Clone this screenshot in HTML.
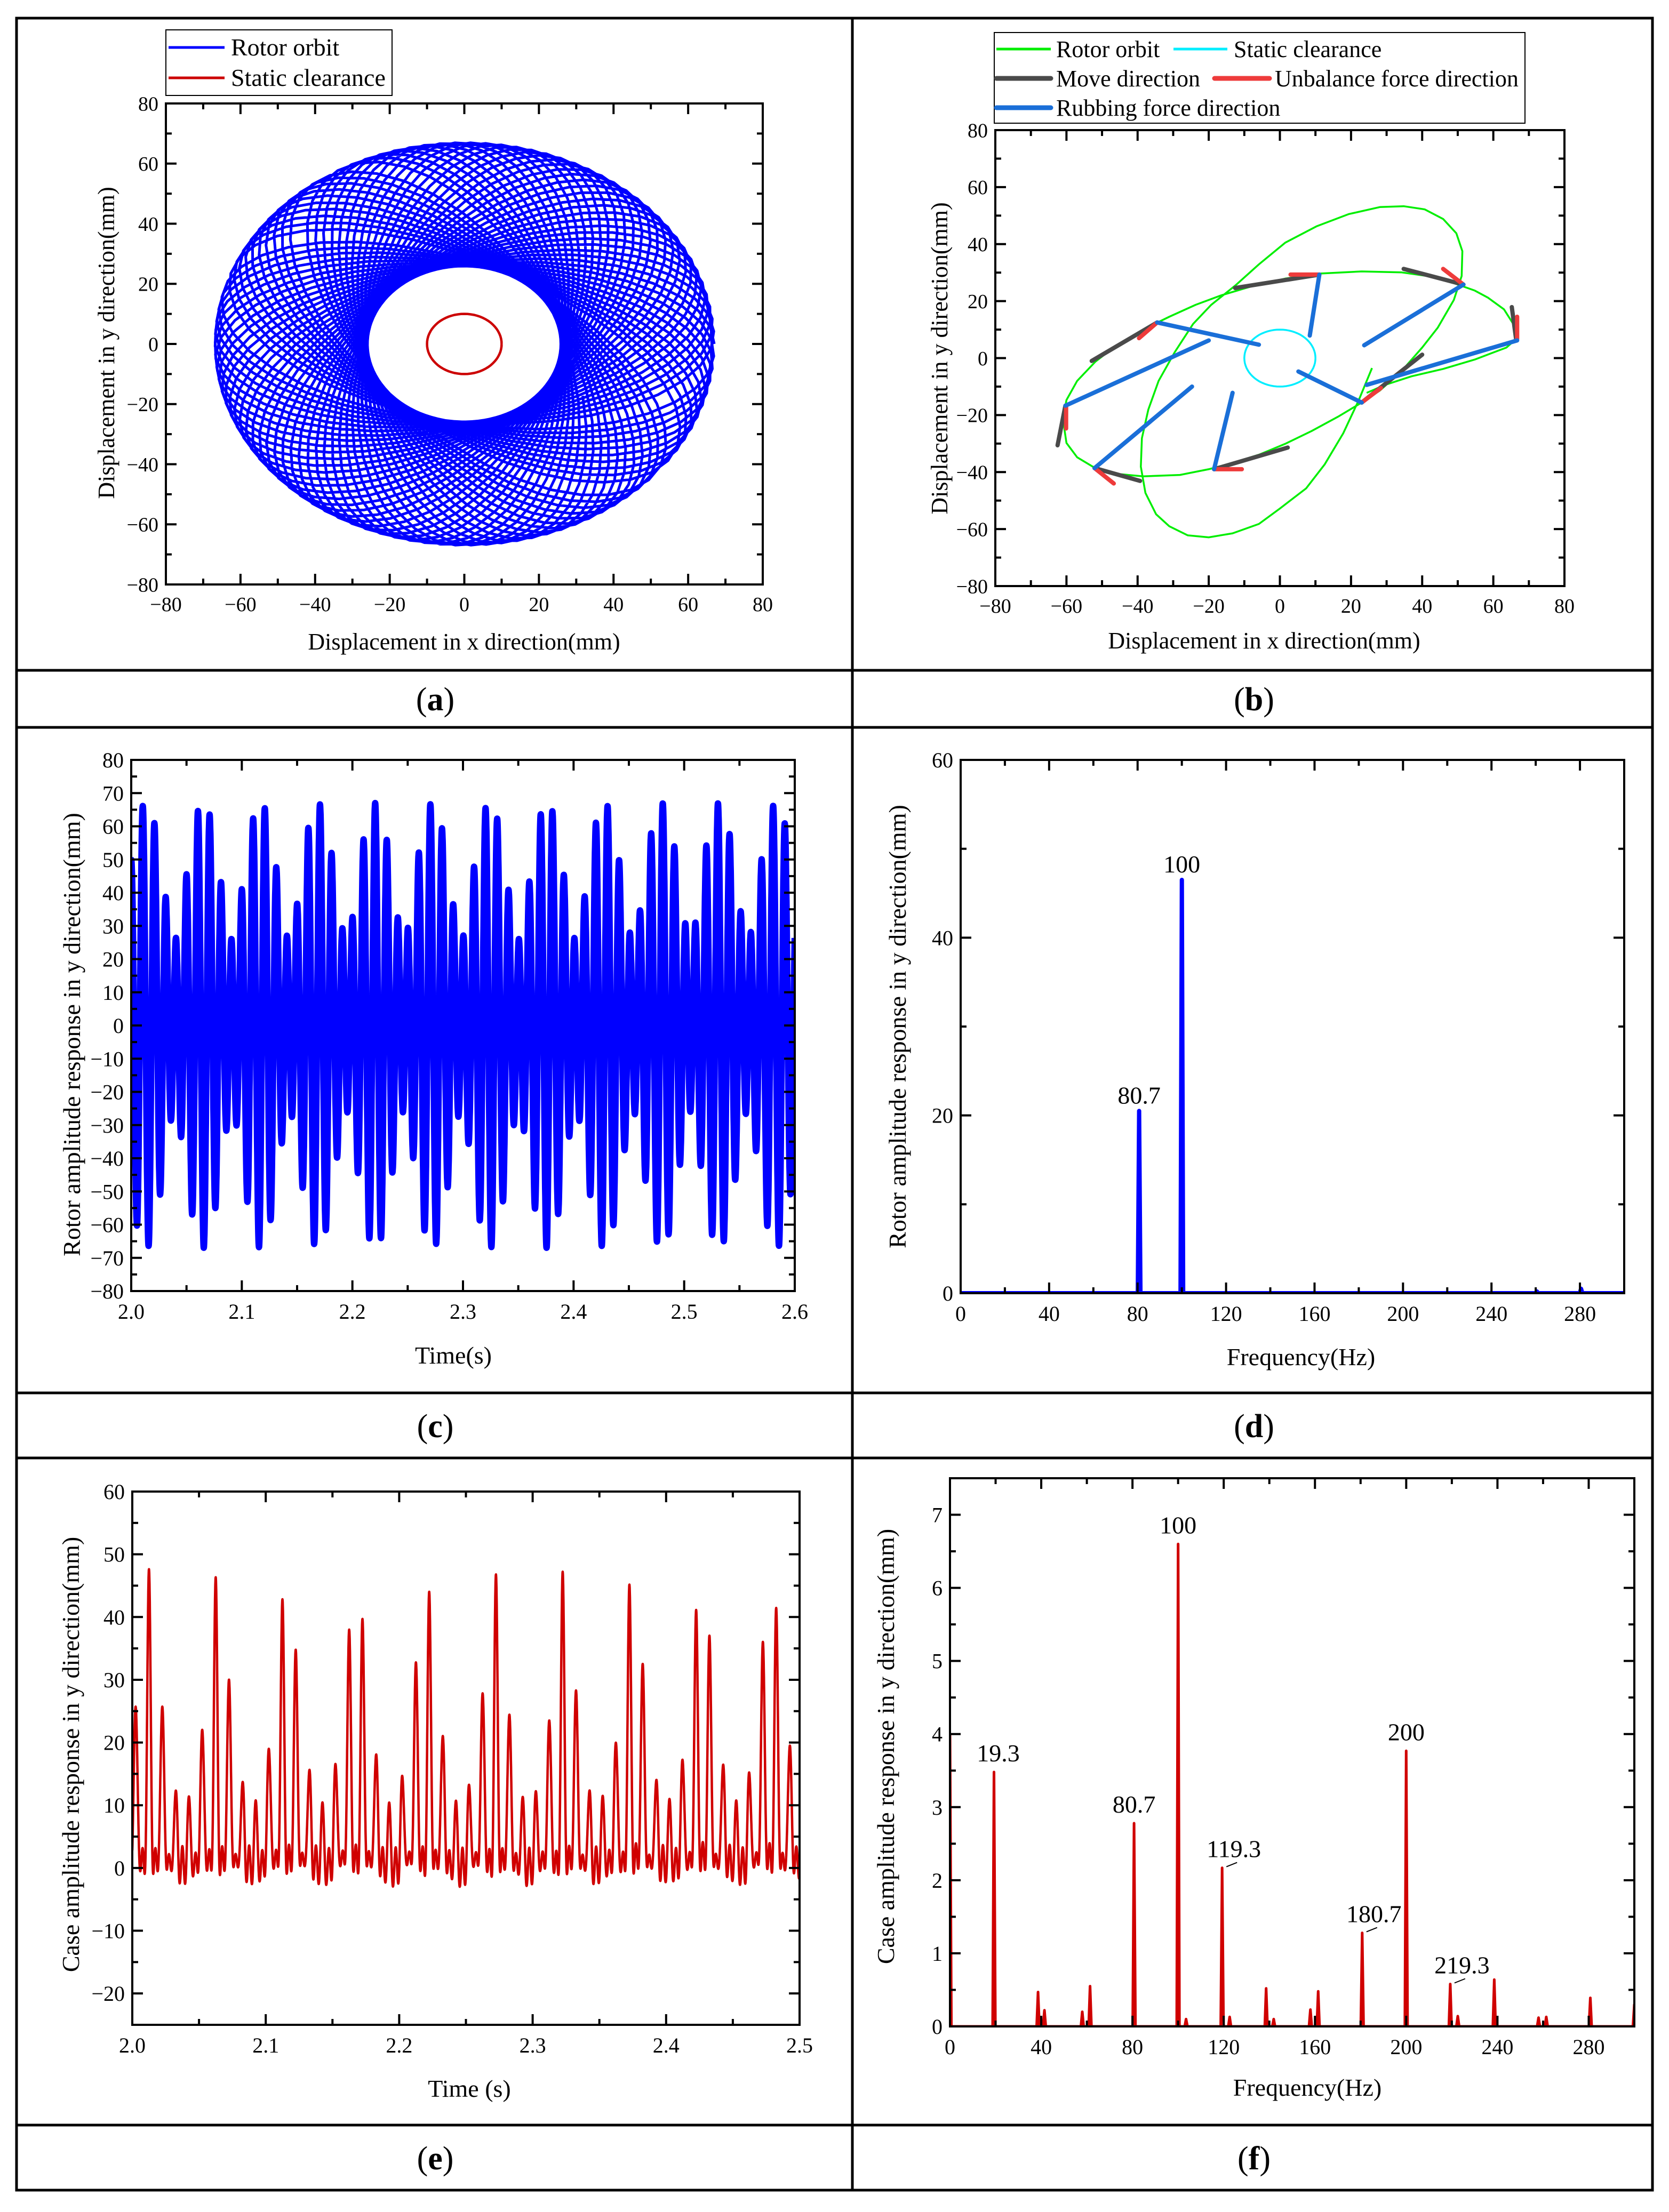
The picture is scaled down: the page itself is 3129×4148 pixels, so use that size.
<!DOCTYPE html>
<html><head><meta charset="utf-8"><style>
html,body{margin:0;padding:0;background:#fff;}
svg, svg text, svg tspan{font-family:"Liberation Serif","Times New Roman",Times,"DejaVu Serif",serif !important;}
</style></head><body>
<svg id="fig" width="3129" height="4143" viewBox="0 0 3129 4143" xmlns="http://www.w3.org/2000/svg" style="font-family:'Liberation Serif','Times New Roman',Times,serif">
<rect x="0" y="0" width="3129" height="4143" fill="#fff"/>
<g stroke="#000" stroke-width="5" fill="none">
<rect x="31" y="34" width="3067" height="4073"/>
<line x1="1598" y1="34" x2="1598" y2="4107"/>
<line x1="31" y1="1257" x2="3098" y2="1257"/>
<line x1="31" y1="1364" x2="3098" y2="1364"/>
<line x1="31" y1="2612" x2="3098" y2="2612"/>
<line x1="31" y1="2734" x2="3098" y2="2734"/>
<line x1="31" y1="3985" x2="3098" y2="3985"/>
</g>
<g font-size="62" text-anchor="middle">
<text x="816" y="1332">(<tspan font-weight="bold">a</tspan>)</text>
<text x="2351" y="1332">(<tspan font-weight="bold">b</tspan>)</text>
<text x="816" y="2695">(<tspan font-weight="bold">c</tspan>)</text>
<text x="2351" y="2695">(<tspan font-weight="bold">d</tspan>)</text>
<text x="816" y="4068">(<tspan font-weight="bold">e</tspan>)</text>
<text x="2351" y="4068">(<tspan font-weight="bold">f</tspan>)</text>
</g>
<g font-size="46">
<rect x="311" y="56" width="424" height="123" fill="#fff" stroke="#000" stroke-width="2"/>
<line x1="316" y1="89" x2="421" y2="89" stroke="#0000ff" stroke-width="5"/>
<text x="433" y="104">Rotor orbit</text>
<line x1="316" y1="146" x2="421" y2="146" stroke="#cc0000" stroke-width="5"/>
<text x="433" y="161">Static clearance</text>
</g>
<g font-size="44">
<rect x="1864" y="61" width="995" height="170" fill="#fff" stroke="#000" stroke-width="2"/>
<line x1="1868" y1="92" x2="1970" y2="92" stroke="#00ee00" stroke-width="5"/>
<text x="1980" y="107">Rotor orbit</text>
<line x1="2200" y1="92" x2="2301" y2="92" stroke="#00eeff" stroke-width="5"/>
<text x="2313" y="107">Static clearance</text>
<line x1="1868" y1="147" x2="1970" y2="147" stroke="#4a4a4a" stroke-width="9" stroke-linecap="round"/>
<text x="1980" y="162">Move direction</text>
<line x1="2277" y1="147" x2="2380" y2="147" stroke="#ee3b3b" stroke-width="9" stroke-linecap="round"/>
<text x="2390" y="162">Unbalance force direction</text>
<line x1="1868" y1="202" x2="1970" y2="202" stroke="#1a6fd8" stroke-width="9" stroke-linecap="round"/>
<text x="1980" y="217">Rubbing force direction</text>
</g>
</svg>
<script>
// ---------- DATA ----------
const rotorFreqs = [100, 80.7];
const rotorAmps = [46.5, 20.5];
const orbitBX = [25.9,22.2,17.8,12.6,7.4,0,-5.9,-13.3,-20,-25.9,-31.1,-34.8,-37.8,-39.1,-38.8,-37,-34.1,-29.6,-24.4,-19.3,-12.6,-5.9,1.5,10.4,19.3,28.1,34.8,40.7,45.9,49.6,51.3,51.1,48.9,44.4,40,34.1,28.1,23,16.3,8.9,1.5,-5.9,-13.3,-20,-28.1,-38.5,-45.9,-52.6,-57,-60,-61,-60,-57,-51.9,-45.9,-38.5,-31.1,-23.7,-16.3,-7.4,1.5,10.4,23,34.1,41.5,48.9,54.8,58.5,63,65.6,66.7,63.7,54.8,45.9,37,29.6,24.4];
const orbitBY = [-3.5,-14.7,-26.4,-37.3,-45.7,-52.8,-58.2,-61.5,-62.9,-62.2,-59,-54.8,-47.3,-38.1,-28.1,-18.1,-8,2,12,18.7,25.4,32.9,40.5,46.3,50.5,53,53.3,52.2,48.8,43.8,37.5,28.8,20.4,10.7,3.7,-4.7,-11.4,-15.6,-20.6,-25.6,-30.1,-33.9,-36.8,-39,-41,-41.5,-40.6,-38.1,-34.8,-29.8,-21.4,-14.7,-8,-1.3,4.5,10,14.5,18.7,22.1,25.4,27.9,29.6,30.4,30.1,28.8,26.3,23.7,21.2,17.1,12,7,3.7,-0.5,-3.8,-6.4,-9.4,-12.2];
const clearanceRadius = 10;
const moveSegs = [[-12.6,24.6,11.1,29.3],[34.8,31.3,51.6,25.8],[65.2,17.9,66.4,6.7],[40,1.2,23,-15.6],[2.2,-31.4,-18.5,-39],[-39.3,-43.1,-52.1,-38.6],[-62.5,-30.6,-60.3,-16.7],[-52.9,-1,-34.5,12.5]];
const unbalSegs = [[3,29.3,11.1,29.3],[45.9,31.3,51.6,25.8],[66.7,14.5,66.7,6.7],[28.4,-10.5,23,-15.6],[-10.7,-39,-18.5,-39],[-46.7,-44,-52.1,-38.6],[-60.1,-24.7,-60.1,-16.7],[-39.6,7,-34.5,12.5]];
const rubSegs = [[11.1,29.3,8.4,7.9],[51.6,25.8,23.7,4.5],[66.7,6.2,24.4,-9.4],[23,-15.6,5.2,-4.7],[-18.5,-39,-13.3,-12.2],[-52.1,-38.6,-24.7,-10],[-60.3,-16.7,-20,6.2],[-34.5,12.5,-5.9,4.7]];
const rotorSpecFreqs = [80.7, 100, 260.5, 280.5];
const rotorSpecAmps = [20.5, 46.5, 0.2, 0.5];
const rotorSpecLabels = ["80.7", "100"];
const caseFreqs = [0, 19.3, 38.6, 41.4, 58, 61.4, 80.7, 100, 103.5, 119.3, 122.6, 138.6, 141.9, 158, 161.4, 180.7, 200, 219.3, 222.6, 238.6, 258, 261.4, 280.7, 300];
const caseAmps = [4.0, 3.48, 0.47, 0.22, 0.2, 0.55, 2.78, 6.6, 0.1, 2.17, 0.13, 0.52, 0.1, 0.23, 0.48, 1.28, 3.77, 0.58, 0.14, 0.64, 0.12, 0.13, 0.39, 0.3];
const caseLabelTexts = ["19.3","80.7","100","119.3","180.7","200","219.3"];
const caseLabelFreqs = [19.3, 80.7, 100, 119.3, 180.7, 200, 219.3];
const caseLabelAmps = [3.48, 2.78, 6.6, 2.17, 1.28, 3.77, 0.58];
const caseTimeGain = 1.6;
const caseTimeOffset = 7.5;
const caseTimeT0 = 2.0125;

// ---------- HELPERS ----------
const NS = "http://www.w3.org/2000/svg";
const svg = document.getElementById('fig');
function mk(tag, attrs, parent){ const e=document.createElementNS(NS,tag); for(const k in attrs) e.setAttribute(k,attrs[k]); (parent||svg).appendChild(e); return e; }
function fmt(v,d){ let s=v.toFixed(d); if(v<-1e-9) s='\u2212'+(-v).toFixed(d); return s; }
let clipId=0;
function makeAxes(p){
  const g = mk('g',{});
  
  
  const sx = v => p.L + (v-p.xmin)/(p.xmax-p.xmin)*(p.R-p.L);
  const sy = v => p.B - (v-p.ymin)/(p.ymax-p.ymin)*(p.B-p.T);
  const id='clip'+(clipId++);
  const cp = mk('clipPath',{id:id}, svg);
  mk('rect',{x:p.L,y:p.T,width:p.R-p.L,height:p.B-p.T},cp);
  const plot = mk('g',{'clip-path':'url(#'+id+')'});
  
  
  function finish(){
    const fr = mk('rect',{x:p.L,y:p.T,width:p.R-p.L,height:p.B-p.T,fill:'none',stroke:'#000','stroke-width':4});
    
    
    const tg = mk('g',{stroke:'#000','stroke-width':4});
    
    
    const eps=1e-9;
    for(let v=p.xmin; v<=p.xmax+eps; v+=p.xMinor){
      const isMaj = Math.abs(Math.round((v-p.xmin)/p.xMajor)*p.xMajor-(v-p.xmin))<1e-6;
      const len = isMaj?20:11, x=sx(v);
      mk('line',{x1:x,y1:p.B,x2:x,y2:p.B-len},tg);
      mk('line',{x1:x,y1:p.T,x2:x,y2:p.T+len},tg);
      if(isMaj){
        const t = mk('text',{x:x,y:p.B+p.fs+12,'font-size':p.fs,'text-anchor':'middle',stroke:'none'});
        t.textContent = fmt(v,p.xd);
        
        
      }
    }
    for(let v=p.yStart; v<=p.ymax+eps; v+=p.yMinor){
      const isMaj = Math.abs(Math.round((v-p.yStart)/p.yMajor)*p.yMajor-(v-p.yStart))<1e-6;
      const len = isMaj?20:11, y=sy(v);
      mk('line',{x1:p.L,y1:y,x2:p.L+len,y2:y},tg);
      mk('line',{x1:p.R,y1:y,x2:p.R-len,y2:y},tg);
      if(isMaj){
        const t = mk('text',{x:p.L-14,y:y+p.fs*0.35,'font-size':p.fs,'text-anchor':'end',stroke:'none'});
        t.textContent = fmt(v,p.yd);
        
        
      }
    }
    const xt = mk('text',{x:p.xtX,y:p.xtY,'font-size':p.tfs,'text-anchor':'middle'});
    xt.textContent = p.xTitle;
    
    
    const yt = mk('text',{x:0,y:0,'font-size':p.tfs,'text-anchor':'middle',transform:'translate('+p.ytX+','+p.ytY+') rotate(-90)'});
    yt.textContent = p.yTitle;
    
    
  }
  return {sx,sy,plot,finish};
}
function pathFrom(xs, ys, sx, sy){
  let d=''; for(let i=0;i<xs.length;i++){ d += (i?'L':'M')+sx(xs[i]).toFixed(1)+' '+sy(ys[i]).toFixed(1); } return d;
}
function spectrumPath(freqs, amps, xmax, sx, sy, hw){
  const pts=[]; pts.push([0,0]);
  const idx = freqs.map((f,i)=>i).sort((a,b)=>freqs[a]-freqs[b]);
  for(const i of idx){ const f=freqs[i];
    pts.push([Math.max(0,f-hw),0]); pts.push([f,amps[i]]); pts.push([Math.min(xmax,f+hw),0]); }
  pts.push([xmax,0]);
  return pathFrom(pts.map(p=>p[0]), pts.map(p=>p[1]), sx, sy);
}

// ---------- PANEL A ----------
{
  const ax = makeAxes({name:'panel-a',L:311,R:1430,T:194,B:1096,xmin:-80,xmax:80,ymin:-80,ymax:80,yStart:-80,xMajor:20,xMinor:10,yMajor:20,yMinor:10,xd:0,yd:0,fs:38,tfs:44,
    xTitle:'Displacement in x direction(mm)',yTitle:'Displacement in y direction(mm)',xtX:870,xtY:1218,ytX:214,ytY:643});
  const xs=[], ys=[];
  for(let t=0;t<=0.55;t+=0.0003){
    const a1=2*Math.PI*rotorFreqs[0]*t, a2=2*Math.PI*rotorFreqs[1]*t;
    xs.push(rotorAmps[0]*Math.cos(a1)+rotorAmps[1]*Math.cos(a2));
    ys.push(rotorAmps[0]*Math.sin(a1)-rotorAmps[1]*Math.sin(a2));
  }
  const orbit = mk('path',{d:pathFrom(xs,ys,ax.sx,ax.sy),fill:'none',stroke:'#0000ff','stroke-width':5,'stroke-linejoin':'round'},ax.plot);
  
  
  const cx=[],cy=[]; for(let k=0;k<=72;k++){ cx.push(clearanceRadius*Math.cos(k*Math.PI/36)); cy.push(clearanceRadius*Math.sin(k*Math.PI/36)); }
  const cl = mk('path',{d:pathFrom(cx,cy,ax.sx,ax.sy),fill:'none',stroke:'#cc0000','stroke-width':4.5},ax.plot);
  
  
  ax.finish();
}
// ---------- PANEL B ----------
{
  const ax = makeAxes({name:'panel-b',L:1866,R:2933,T:244,B:1099,xmin:-80,xmax:80,ymin:-80,ymax:80,yStart:-80,xMajor:20,xMinor:10,yMajor:20,yMinor:10,xd:0,yd:0,fs:38,tfs:44,
    xTitle:'Displacement in x direction(mm)',yTitle:'Displacement in y direction(mm)',xtX:2370,xtY:1216,ytX:1776,ytY:672});
  const orbit = mk('path',{d:pathFrom(orbitBX,orbitBY,ax.sx,ax.sy),fill:'none',stroke:'#00ee00','stroke-width':3.5,'stroke-linejoin':'round'},ax.plot);
  
  
  const cx=[],cy=[]; for(let k=0;k<=72;k++){ cx.push(clearanceRadius*Math.cos(k*Math.PI/36)); cy.push(clearanceRadius*Math.sin(k*Math.PI/36)); }
  const cl = mk('path',{d:pathFrom(cx,cy,ax.sx,ax.sy),fill:'none',stroke:'#00eeff','stroke-width':3.5},ax.plot);
  
  
  const groups=[[moveSegs,'#4a4a4a','move-direction-segment'],[unbalSegs,'#ee3b3b','unbalance-force-segment'],[rubSegs,'#1a6fd8','rubbing-force-segment']];
  for(const [segs,col,nm] of groups){
    for(const s of segs){
      const ln = mk('line',{x1:ax.sx(s[0]),y1:ax.sy(s[1]),x2:ax.sx(s[2]),y2:ax.sy(s[3]),stroke:col,'stroke-width':8,'stroke-linecap':'round'},ax.plot);
      
      
    }
  }
  ax.finish();
}
// ---------- PANEL C ----------
{
  const ax = makeAxes({name:'panel-c',L:246,R:1490,T:1425,B:2421,xmin:2.0,xmax:2.6,ymin:-80,ymax:80,yStart:-80,xMajor:0.1,xMinor:0.05,yMajor:10,yMinor:5,xd:1,yd:0,fs:40,tfs:46,
    xTitle:'Time(s)',yTitle:'Rotor amplitude response in y direction(mm)',xtX:850,xtY:2557,ytX:150,ytY:1940});
  const xs=[],ys=[];
  for(let t=2.0;t<=2.6;t+=0.0001){
    xs.push(t);
    ys.push(rotorAmps[0]*Math.sin(2*Math.PI*rotorFreqs[0]*t+1.2)+rotorAmps[1]*Math.sin(2*Math.PI*rotorFreqs[1]*t+0.3));
  }
  const ln = mk('path',{d:pathFrom(xs,ys,ax.sx,ax.sy),fill:'none',stroke:'#0000ff','stroke-width':12,'stroke-linejoin':'round'},ax.plot);
  
  
  ax.finish();
}
// ---------- PANEL D ----------
{
  const ax = makeAxes({name:'panel-d',L:1801,R:3045,T:1425,B:2425,xmin:0,xmax:300,ymin:0,ymax:60,yStart:0,xMajor:40,xMinor:20,yMajor:20,yMinor:10,xd:0,yd:0,fs:40,tfs:46,
    xTitle:'Frequency(Hz)',yTitle:'Rotor amplitude response in y direction(mm)',xtX:2439,xtY:2560,ytX:1698,ytY:1925});
  const ln = mk('path',{d:spectrumPath(rotorSpecFreqs,rotorSpecAmps,300,ax.sx,ax.sy,0.6),fill:'none',stroke:'#0000ff','stroke-width':8,'stroke-linejoin':'round'},ax.plot);
  
  
  for(let i=0;i<rotorSpecLabels.length;i++){
    const t = mk('text',{x:ax.sx(rotorSpecFreqs[i]),y:ax.sy(rotorSpecAmps[i])-14,'font-size':46,'text-anchor':'middle'});
    t.textContent = rotorSpecLabels[i];
    
    
  }
  ax.finish();
}
// ---------- PANEL E ----------
{
  const ax = makeAxes({name:'panel-e',L:248,R:1499,T:2797,B:3797,xmin:2.0,xmax:2.5,ymin:-25,ymax:60,yStart:-20,xMajor:0.1,xMinor:0.05,yMajor:10,yMinor:5,xd:1,yd:0,fs:40,tfs:46,
    xTitle:'Time (s)',yTitle:'Case amplitude response in y direction(mm)',xtX:880,xtY:3932,ytX:148,ytY:3290});
  const xs=[],ys=[];
  for(let t=2.0;t<=2.5;t+=0.0001){
    let v=0;
    for(let i=1;i<caseFreqs.length-1;i++){ v += caseAmps[i]*Math.cos(2*Math.PI*caseFreqs[i]*(t-caseTimeT0)); }
    xs.push(t); ys.push(v*caseTimeGain + caseTimeOffset);
  }
  const ln = mk('path',{d:pathFrom(xs,ys,ax.sx,ax.sy),fill:'none',stroke:'#d00000','stroke-width':4.5,'stroke-linejoin':'round'},ax.plot);
  
  
  ax.finish();
}
// ---------- PANEL F ----------
{
  const ax = makeAxes({name:'panel-f',L:1781,R:3064,T:2772,B:3800,xmin:0,xmax:300,ymin:0,ymax:7.5,yStart:0,xMajor:40,xMinor:20,yMajor:1,yMinor:0.5,xd:0,yd:0,fs:40,tfs:46,
    xTitle:'Frequency(Hz)',yTitle:'Case amplitude response in y direction(mm)',xtX:2451,xtY:3930,ytX:1676,ytY:3275});
  const ln = mk('path',{d:spectrumPath(caseFreqs,caseAmps,300,ax.sx,ax.sy,0.6),fill:'none',stroke:'#d00000','stroke-width':5,'stroke-linejoin':'round'},ax.plot);
  
  
  for(let i=0;i<caseLabelTexts.length;i++){
    let dx=0, leader=false;
    const tx = caseLabelTexts[i];
    if(tx==='119.3'||tx==='219.3'||tx==='180.7'){ dx=22; leader=true; }
    if(tx==='19.3'){ dx=8; }
    const x=ax.sx(caseLabelFreqs[i])+dx, y=ax.sy(caseLabelAmps[i])-20;
    const t = mk('text',{x:x,y:y,'font-size':46,'text-anchor':'middle'});
    t.textContent = tx;
    
    
    if(leader){
      const l = mk('line',{x1:ax.sx(caseLabelFreqs[i])+8,y1:ax.sy(caseLabelAmps[i])-2,x2:ax.sx(caseLabelFreqs[i])+28,y2:ax.sy(caseLabelAmps[i])-10,stroke:'#000','stroke-width':2});
      
      
    }
  }
  ax.finish();
}
</script>
</body></html>
